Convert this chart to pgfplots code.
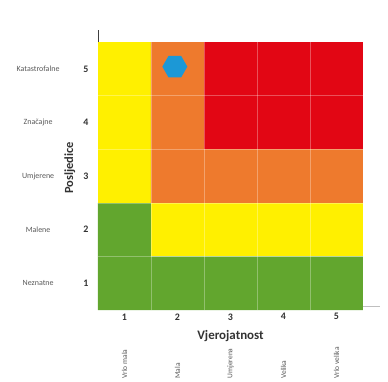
\documentclass[border=0pt]{standalone}
\usepackage{pgfplots}
\pgfplotsset{compat=1.18}
\usepackage{fontspec}
\setmainfont{Carlito}

\definecolor{rYellow}{RGB}{255,240,0}
\definecolor{rOrange}{RGB}{238,122,45}
\definecolor{rRed}{RGB}{226,6,20}
\definecolor{rGreen}{RGB}{98,166,46}
\definecolor{rBlue}{RGB}{28,152,214}

% flat-topped hexagon mark
\pgfdeclareplotmark{hexagon}{%
  \pgfpathmoveto{\pgfqpointpolar{0}{\pgfplotmarksize}}%
  \pgfpathlineto{\pgfqpointpolar{60}{\pgfplotmarksize}}%
  \pgfpathlineto{\pgfqpointpolar{120}{\pgfplotmarksize}}%
  \pgfpathlineto{\pgfqpointpolar{180}{\pgfplotmarksize}}%
  \pgfpathlineto{\pgfqpointpolar{240}{\pgfplotmarksize}}%
  \pgfpathlineto{\pgfqpointpolar{300}{\pgfplotmarksize}}%
  \pgfpathclose
  \pgfusepathqfill}

\tikzset{catlbl/.style={font=\fontsize{8}{9}\selectfont, text=black!65}}

\begin{document}
\begin{tikzpicture}
\begin{axis}[
  scale only axis,
  width=265bp, height=268bp,
  xmin=0.5, xmax=5.5, ymin=0.5, ymax=5.5,
  axis line style={draw=none},
  tick style={draw=none},
  xtick={1,2,3,4,5}, ytick={1,2,3,4,5},
  xticklabels={1,2,3,4,5}, yticklabels={1,2,3,4,5},
  ticklabel style={font=\bfseries\fontsize{10}{12}\selectfont, text=black!80},
  yticklabel style={xshift=-6bp},
  clip=false,
]
% risk zones
\addplot[draw=none, fill=rGreen] coordinates {(0.5,0.5) (5.5,0.5) (5.5,1.5) (1.5,1.5) (1.5,2.5) (0.5,2.5)} -- cycle;
\addplot[draw=none, fill=rYellow] coordinates {(1.5,1.5) (5.5,1.5) (5.5,2.5) (1.5,2.5)} -- cycle;
\addplot[draw=none, fill=rYellow] coordinates {(0.5,2.5) (1.5,2.5) (1.5,5.5) (0.5,5.5)} -- cycle;
\addplot[draw=none, fill=rOrange] coordinates {(1.5,2.5) (5.5,2.5) (5.5,3.5) (2.5,3.5) (2.5,5.5) (1.5,5.5)} -- cycle;
\addplot[draw=none, fill=rRed] coordinates {(2.5,3.5) (5.5,3.5) (5.5,5.5) (2.5,5.5)} -- cycle;

% faint cell borders
\pgfplotsinvokeforeach{1.5,2.5,3.5,4.5}{
  \draw[white, opacity=0.3, line width=0.6pt] (axis cs:#1,0.5) -- (axis cs:#1,5.5);
  \draw[white, opacity=0.3, line width=0.6pt] (axis cs:0.5,#1) -- (axis cs:5.5,#1);
}

% assessed risk
\addplot[only marks, mark=hexagon, mark size=12.5bp, color=rBlue] coordinates {(1.95,5.04)};

% frame remnants
\draw[black!75, line width=0.6pt] (axis cs:0.5,5.5) -- (axis cs:0.5,5.73);
\draw[black!25, line width=0.5pt] (axis cs:5.5,0.57) -- (axis cs:5.83,0.57);

% axis titles
\node[font=\bfseries\fontsize{13}{15}\selectfont, text=black!80] at (axis cs:3,0.02) {Vjerojatnost};
\node[font=\bfseries\fontsize{12.5}{15}\selectfont, text=black!80, rotate=90] at (axis cs:-0.03,3.15) {Posljedice};

% consequence categories
\node[catlbl] at (axis cs:-0.63,5) {Katastrofalne};
\node[catlbl] at (axis cs:-0.63,4) {Značajne};
\node[catlbl] at (axis cs:-0.63,3) {Umjerene};
\node[catlbl] at (axis cs:-0.63,2) {Malene};
\node[catlbl] at (axis cs:-0.63,1) {Neznatne};

% likelihood categories
\node[catlbl, font=\fontsize{7.5}{9}\selectfont, rotate=90, anchor=west, inner sep=1bp] at (axis cs:1,-0.80) {Vrlo mala};
\node[catlbl, font=\fontsize{7.5}{9}\selectfont, rotate=90, anchor=west, inner sep=1bp] at (axis cs:2,-0.80) {Mala};
\node[catlbl, font=\fontsize{7.5}{9}\selectfont, rotate=90, anchor=west, inner sep=1bp] at (axis cs:3,-0.80) {Umjerena};
\node[catlbl, font=\fontsize{7.5}{9}\selectfont, rotate=90, anchor=west, inner sep=1bp] at (axis cs:4,-0.80) {Velika};
\node[catlbl, font=\fontsize{7.5}{9}\selectfont, rotate=90, anchor=west, inner sep=1bp] at (axis cs:5,-0.80) {Vrlo velika};

\coordinate (pageSW) at (axis cs:-1.349,-0.825);
\coordinate (pageNE) at (axis cs:5.972,6.284);
\end{axis}
% page extent
\pgfresetboundingbox
\path (pageSW) rectangle (pageNE);
\end{tikzpicture}
\end{document}
